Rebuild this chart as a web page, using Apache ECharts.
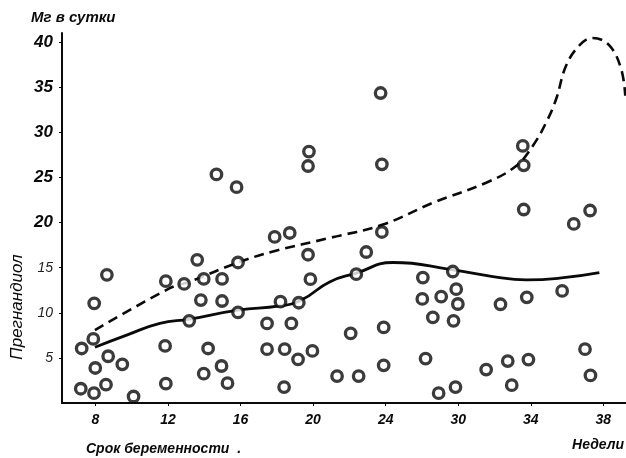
<!DOCTYPE html>
<html>
<head>
<meta charset="utf-8">
<script src="https://cdn.jsdelivr.net/npm/echarts@6/dist/echarts.min.js"></script>
<style>
html,body{margin:0;padding:0;background:#fff;}
#chart{width:626px;height:458px;}
</style>
</head>
<body>
<div id="chart"></div>
<script>
// X positions are in the axis' own linear units (ticks evenly spaced); printed labels below
const tickPos = [8, 12, 16, 20, 24, 28, 32, 36];
const tickLabels = ['8', '12', '16', '20', '24', '30', '34', '38'];
const yTicks = [5, 10, 15, 20, 25, 30, 35, 40];

// Individual measurements (pregnanediol, mg/day)
const weekX = [8.63, 11.88, 12.89, 7.93, 7.88, 7.24, 8.70, 9.48, 7.99, 11.84,
  7.19, 7.92, 8.58, 10.10, 11.88, 13.17, 13.61, 13.97, 14.98, 15.86,
  13.81, 14.98, 15.86, 14.21, 13.97, 14.95, 15.28, 17.88, 18.71, 19.72,
  19.85, 18.20, 19.21, 17.46, 18.80, 17.46, 18.43, 19.17, 19.96, 18.40,
  14.67, 15.78, 19.77, 19.72, 23.72, 23.79, 23.79, 22.93, 22.38, 22.07,
  23.89, 23.89, 21.32, 22.51, 26.05, 27.70, 27.89, 26.02, 27.06, 27.98,
  26.60, 27.74, 26.20, 26.92, 27.85, 31.61, 34.37, 35.27, 30.33, 31.78,
  33.73, 29.54, 30.73, 31.87, 30.95, 34.99, 35.29, 31.56, 31.61];
const pregY = [14.2, 13.5, 13.2, 11.05, 7.1, 6.04, 5.18, 4.29, 3.88, 6.33,
  1.58, 1.09, 2.03, 0.72, 2.14, 9.11, 15.87, 13.75, 13.75, 15.57,
  11.41, 11.30, 10.04, 6.04, 3.25, 4.10, 2.20, 18.40, 18.84, 16.43,
  13.72, 11.23, 11.11, 8.82, 8.82, 5.96, 5.96, 4.84, 5.77, 1.76,
  25.33, 23.92, 27.86, 26.26, 34.35, 26.45, 18.95, 16.73, 14.28, 7.71,
  8.37, 4.18, 2.98, 2.98, 13.90, 14.57, 12.61, 11.53, 11.78, 10.97,
  9.49, 9.11, 4.92, 1.09, 1.76, 21.44, 19.84, 21.33, 10.94, 11.71,
  12.42, 3.70, 4.65, 4.81, 1.98, 5.96, 3.06, 28.49, 26.34];

// Mean curve (solid)
const meanX = [7.97, 9.72, 11.55, 13.20, 15.86, 18.16, 19.35, 20.91, 22.38, 24.40, 27.70, 29.91, 31.74, 33.58, 35.78];
const meanY = [6.18, 7.52, 8.82, 9.30, 10.30, 10.75, 11.41, 13.42, 14.39, 15.57, 14.75, 14.01, 13.64, 13.83, 14.45];

// Upper curve (dashed)
const upperX = [7.97, 12.10, 13.20, 15.86, 17.79, 20.91, 23.85, 26.60, 29.54, 31.19, 32.11, 32.85, 33.40, 33.95, 34.68, 35.41, 36.33, 36.98, 37.21];
const upperY = [8.07, 12.72, 13.45, 15.57, 16.79, 18.29, 19.77, 22.18, 24.41, 26.26, 28.49, 31.09, 33.69, 37.39, 39.62, 40.45, 39.62, 37.03, 34.05];

const zip = (a, b) => a.map((v, i) => [v, b[i]]);
const INK = '#0a0a0a';
const FONT = '"Liberation Sans", "DejaVu Sans", sans-serif';

const chart = echarts.init(document.getElementById('chart'));
chart.setOption({
  backgroundColor: '#fff',
  animation: false,
  grid: { left: 62, right: 0, top: 33, bottom: 55 },
  xAxis: {
    type: 'value', min: 6.155, max: 37.25,
    splitLine: { show: false },
    axisLine: { lineStyle: { color: INK, width: 2 } },
    axisTick: { show: true, length: 3, customValues: tickPos, lineStyle: { color: INK } },
    axisLabel: {
      customValues: tickPos, margin: 10,
      color: INK, fontFamily: FONT, fontStyle: 'italic', fontWeight: 'bold', fontSize: 14,
      formatter: v => tickLabels[tickPos.indexOf(Math.round(v))] || ''
    }
  },
  yAxis: {
    type: 'value', min: 0, max: 41,
    splitLine: { show: false },
    axisLine: { show: true, lineStyle: { color: INK, width: 2 } },
    axisTick: { show: true, length: 3, customValues: yTicks, lineStyle: { color: INK } },
    axisLabel: {
      customValues: yTicks, margin: 9,
      color: INK, fontFamily: FONT, fontStyle: 'italic',
      formatter: v => (v >= 20 ? '{b|' + v + '}' : '{s|' + v + '}'),
      rich: {
        b: { fontSize: 17, fontWeight: 'bold', fontStyle: 'italic', fontFamily: FONT, color: INK },
        s: { fontSize: 14, fontWeight: 'normal', fontStyle: 'italic', fontFamily: FONT, color: '#222' }
      }
    }
  },
  series: [
    {
      type: 'line', data: zip(upperX, upperY), smooth: 0.4, showSymbol: false, symbol: 'none',
      lineStyle: { color: INK, width: 2.6, type: [10, 6] }, z: 2
    },
    {
      type: 'line', data: zip(meanX, meanY), smooth: 0.5, showSymbol: false, symbol: 'none',
      lineStyle: { color: INK, width: 2.8 }, z: 2
    },
    {
      type: 'scatter', data: zip(weekX, pregY), symbol: 'circle', symbolSize: 10.5,
      itemStyle: { color: '#fff', borderColor: INK, borderWidth: 3.3 }, z: 3
    }
  ],
  graphic: [
    { type: 'text', left: 31, top: 10, style: { text: 'Мг в сутки', font: 'italic bold 15px ' + FONT, fill: INK } },
    { type: 'text', x: 17, y: 307, rotation: Math.PI / 2, style: { text: 'Прегнандиол', font: 'italic 17px ' + FONT, fill: INK, align: 'center', verticalAlign: 'middle' } },
    { type: 'text', left: 86, top: 442, style: { text: 'Срок беременности  .', font: 'italic bold 14px ' + FONT, fill: INK } },
    { type: 'text', right: 2, top: 438, style: { text: 'Недели', font: 'italic bold 14px ' + FONT, fill: INK } }
  ]
});
</script>
</body>
</html>
